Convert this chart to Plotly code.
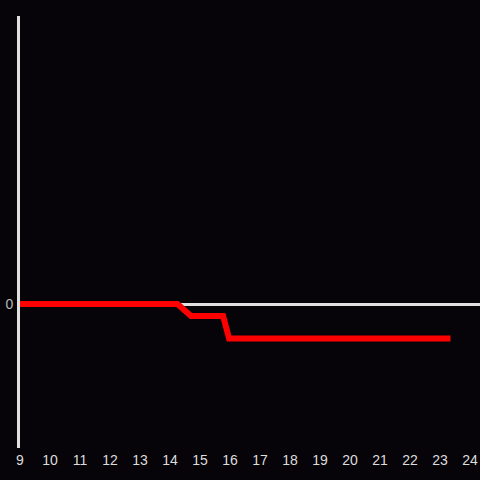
import plotly.graph_objects as go

hours = [9, 14.25, 14.7, 15.77, 15.97, 23.35]
values = [0, 0, -2.5, -2.5, -7.2, -7.2]
x_ticks = list(range(9, 25))

fig = go.Figure()
fig.add_trace(go.Scatter(x=hours, y=values, mode="lines",
                         line=dict(color="#ff0000", width=6), hoverinfo="skip"))
fig.update_layout(
    width=480, height=480,
    margin=dict(l=20, r=0, t=16, b=32),
    paper_bgcolor="#060408", plot_bgcolor="#060408",
    showlegend=False,
    font=dict(family="Liberation Sans, Arial, sans-serif", size=14, color="#dddddd"),
    xaxis=dict(range=[9, 24.333], tickvals=x_ticks, ticktext=[str(t) for t in x_ticks],
               showgrid=False, zeroline=False, showline=False, ticks="",
               ticklabelstandoff=2,
               tickfont=dict(size=14, color="#dddddd")),
    yaxis=dict(range=[-30, 60], tickvals=[0], ticktext=["0"], showgrid=False,
               zeroline=True, zerolinecolor="#e0e0e0", zerolinewidth=3,
               showline=True, linecolor="#e0e0e0", linewidth=3, ticks="",
               ticklabelstandoff=1,
               tickfont=dict(size=14, color="#bbbbbb")),
)
fig.write_html(
    "out.html",
    config={"displayModeBar": False},
    post_script="document.body.style.margin='0';document.body.style.overflow='hidden';"
                "document.documentElement.style.overflow='hidden';"
                "document.body.style.background='#060408';",
)
